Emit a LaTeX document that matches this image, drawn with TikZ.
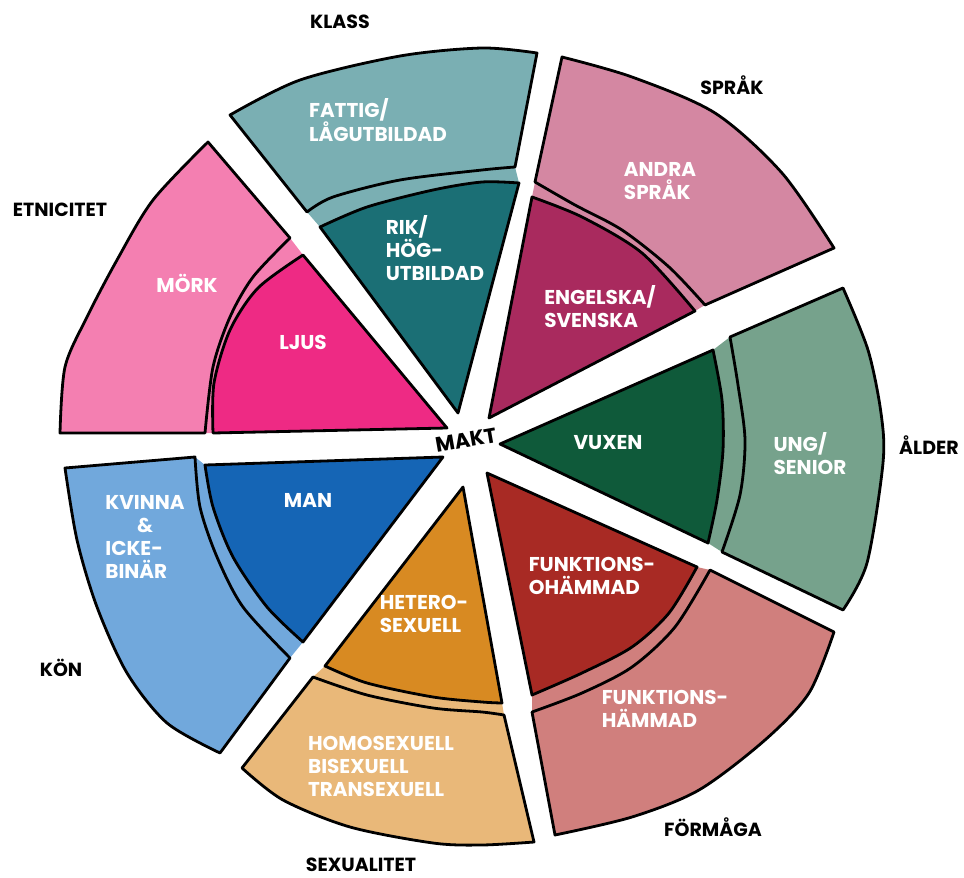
\documentclass[tikz,border=0pt]{standalone}
\usepackage{fontspec}
\usepackage{calc}
\setmainfont{Poppins}
\definecolor{morkc}{HTML}{F47FB1}
\definecolor{ljusc}{HTML}{EE2A84}
\definecolor{fattigc}{HTML}{7AAFB3}
\definecolor{rikc}{HTML}{1B6F75}
\definecolor{andrac}{HTML}{D487A2}
\definecolor{engc}{HTML}{A92A5E}
\definecolor{ungc}{HTML}{76A28C}
\definecolor{vuxenc}{HTML}{0F5A3A}
\definecolor{hamc}{HTML}{D07F7D}
\definecolor{ohamc}{HTML}{A82A24}
\definecolor{homoc}{HTML}{E9B879}
\definecolor{heteroc}{HTML}{D88A22}
\definecolor{kvinnac}{HTML}{71A8DC}
\definecolor{manc}{HTML}{1565B5}
\tikzset{
  piece/.style={draw=black, line width=2.8pt, line join=round},
  band/.style={draw=none},
  intext/.style={text=white, font=\bfseries\fontsize{20}{23}\selectfont, align=left, inner sep=0pt},
  cattext/.style={text=black, font=\bfseries\fontsize{19}{21}\selectfont, inner sep=0pt},
}
\begin{document}
\begin{tikzpicture}[x=1pt,y=-1pt]
\useasboundingbox (0,0) rectangle (964,878);
% ---------- ETNICITET ----------
\fill[band, morkc] (290,238) --plot[smooth] coordinates {(290,238) (253,277) (230,317) (213,367) (205,433)} -- (213,433) --plot[smooth] coordinates {(213,433) (214,383) (230,330) (258,288) (303,255)} -- cycle;
\filldraw[piece, fill=morkc] (208,142) -- (290,238) --plot[smooth] coordinates {(290,238) (253,277) (230,317) (213,367) (205,433)} -- (60,433) --plot[smooth] coordinates {(60,433) (65,367) (87,317) (117,260) (153,200) (208,142)} -- cycle;
\filldraw[piece, fill=ljusc] (303,255) -- (447,428) -- (213,433) --plot[smooth] coordinates {(213,433) (214,383) (230,330) (258,288) (303,255)} -- cycle;
% ---------- KLASS ----------
\fill[band, fattigc] (307,212) --plot[smooth] coordinates {(307,212) (333,197) (400,180) (482,170) (515,167)} -- (519,183) --plot[smooth] coordinates {(519,183) (482,182) (433,190) (367,207) (320,227)} -- cycle;
\filldraw[piece, fill=fattigc] (307,212) -- (230,115) --plot[smooth] coordinates {(230,115) (300,80) (400,56) (482,48) (537,53)} -- (515,167) --plot[smooth] coordinates {(515,167) (482,170) (400,180) (333,197) (307,212)} -- cycle;
\filldraw[piece, fill=rikc] (320,227) --plot[smooth] coordinates {(320,227) (367,207) (433,190) (482,182) (519,183)} -- (458,413) -- cycle;
% ---------- SPRAK ----------
\fill[band, andrac] (535,182) --plot[smooth] coordinates {(535,182) (575,205) (622,230) (669,267) (705,305)} -- (695,311) --plot[smooth] coordinates {(695,311) (642,253) (582,217) (532,197)} -- cycle;
\filldraw[piece, fill=andrac] (562,57) --plot[smooth] coordinates {(562,57) (632,77) (715,113) (782,173) (834,248)} -- (705,305) --plot[smooth] coordinates {(705,305) (669,267) (622,230) (575,205) (535,182)} -- cycle;
\filldraw[piece, fill=engc] (532,197) --plot[smooth] coordinates {(532,197) (582,217) (642,253) (695,311)} -- (489,418) -- cycle;
% ---------- ALDER ----------
\fill[band, ungc] (713,350) --plot[smooth] coordinates {(713,350) (722,400) (723,450) (717,500) (708,543)} -- (722,552) --plot[smooth] coordinates {(722,552) (740,495) (745,440) (738,385) (730,337)} -- cycle;
\filldraw[piece, fill=ungc] (843,288) --plot[smooth] coordinates {(843,288) (868,350) (881,413) (883,463) (867,563) (843,610)} -- (722,552) --plot[smooth] coordinates {(722,552) (740,495) (745,440) (738,385) (730,337)} -- cycle;
\filldraw[piece, fill=vuxenc] (500,444) -- (713,350) --plot[smooth] coordinates {(713,350) (722,400) (723,450) (717,500) (708,543)} -- cycle;
% ---------- FORMAGA ----------
\fill[band, hamc] (697,567) --plot[smooth] coordinates {(697,567) (669,613) (632,647) (582,673) (532,695)} -- (532,712) --plot[smooth] coordinates {(532,712) (582,693) (632,667) (675,627) (710,570)} -- cycle;
\filldraw[piece, fill=hamc] (710,570) -- (834,632) --plot[smooth] coordinates {(834,632) (809,693) (765,740) (699,790) (632,817) (555,835)} -- (532,712) --plot[smooth] coordinates {(532,712) (582,693) (632,667) (675,627) (710,570)} -- cycle;
\filldraw[piece, fill=ohamc] (487,473) -- (697,567) --plot[smooth] coordinates {(697,567) (669,613) (632,647) (582,673) (532,695)} -- cycle;
% ---------- SEXUALITET ----------
\fill[band, homoc] (325,666) --plot[smooth] coordinates {(325,666) (367,683) (433,697) (482,702) (502,703)} -- (504,715) --plot[smooth] coordinates {(504,715) (482,712) (433,708) (367,695) (313,677)} -- cycle;
\filldraw[piece, fill=homoc] (313,677) -- (242,768) --plot[smooth] coordinates {(242,768) (283,800) (350,827) (433,843) (482,845) (534,842)} -- (504,715) --plot[smooth] coordinates {(504,715) (482,712) (433,708) (367,695) (313,677)} -- cycle;
\filldraw[piece, fill=heteroc] (463,487) -- (502,703) --plot[smooth] coordinates {(502,703) (482,702) (433,697) (367,683) (325,666)} -- cycle;
% ---------- KON ----------
\fill[band, kvinnac] (195,457) --plot[smooth] coordinates {(195,457) (200,507) (217,557) (243,607) (290,658)} -- (303,642) --plot[smooth] coordinates {(303,642) (267,607) (233,557) (213,507) (205,465)} -- cycle;
\filldraw[piece, fill=kvinnac] (65,468) -- (195,457) --plot[smooth] coordinates {(195,457) (200,507) (217,557) (243,607) (290,658)} -- (220,753) --plot[smooth] coordinates {(220,753) (167,723) (127,673) (97,607) (77,540) (65,468)} -- cycle;
\filldraw[piece, fill=manc] (205,465) -- (443,457) -- (303,642) --plot[smooth] coordinates {(303,642) (267,607) (233,557) (213,507) (205,465)} -- cycle;
% ---------- inner texts ----------
\node[intext] (tfattig) at (378,120) {FATTIG/\\LÅGUTBILDAD};
\node[intext] (trik) at (435,248) {RIK/\\HÖG-\\UTBILDAD};
\node[intext] (tandra) at (660,181) {ANDRA\\SPRÅK};
\node[intext] (teng) at (600,307) {ENGELSKA/\\SVENSKA};
\node[intext] (tmork) at (187,283) {MÖRK};
\node[intext] (tljus) at (303,342) {LJUS};
\node[intext] (tvuxen) at (608,443) {VUXEN};
\node[intext] (tung) at (810,454) {UNG/\\SENIOR};
\node[intext] (tman) at (308,500) {MAN};
\node[intext] (tkvinna) at (145,537) {KVINNA\\\makebox[\widthof{KVINNA}][c]{\&}\\ICKE-\\BINÄR};
\node[intext] (thetero) at (424,614) {HETERO-\\SEXUELL};
\node[intext] (thomo) at (381,766) {HOMOSEXUELL\\BISEXUELL\\TRANSEXUELL};
\node[intext] (toham) at (592,576) {FUNKTIONS-\\OHÄMMAD};
\node[intext] (tham) at (665,709) {FUNKTIONS-\\HÄMMAD};
% ---------- category labels ----------
\node[cattext] (lklass) at (340,22) {KLASS};
\node[cattext] (lsprak) at (732,85) {SPRÅK};
\node[cattext] (letn) at (60,210) {ETNICITET};
\node[cattext] (lalder) at (929,445) {ÅLDER};
\node[cattext] (lkon) at (61,668) {KÖN};
\node[cattext] (lsex) at (361,865) {SEXUALITET};
\node[cattext] (lform) at (713,827) {FÖRMÅGA};
\node[cattext, font=\bfseries\fontsize{21}{23}\selectfont, rotate=10] (makt) at (466,440) {MAKT};
\end{tikzpicture}
\end{document}
